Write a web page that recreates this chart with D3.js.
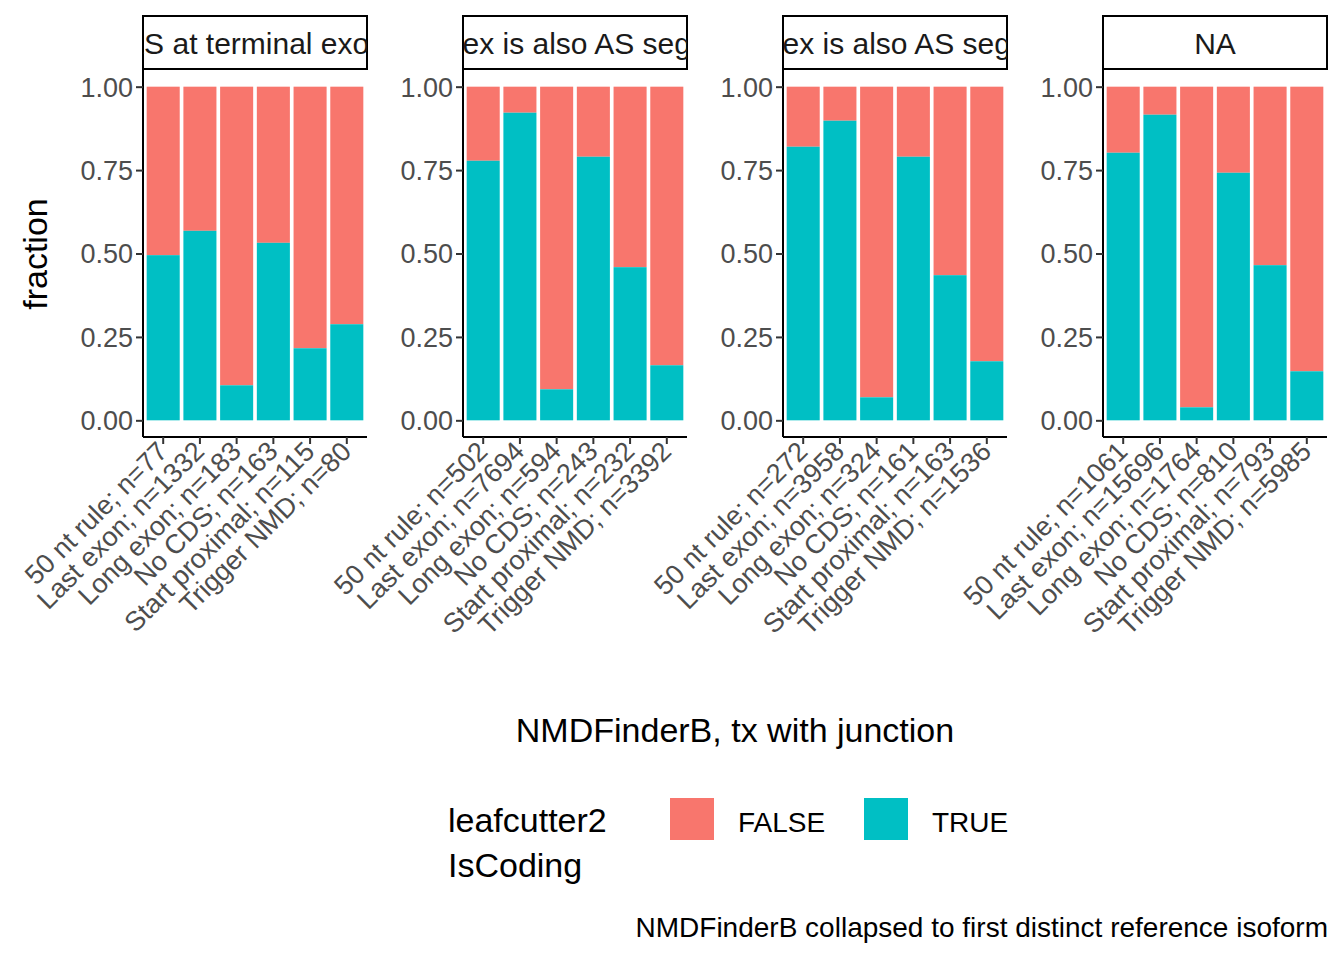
<!DOCTYPE html>
<html><head><meta charset="utf-8">
<script src="https://cdn.jsdelivr.net/npm/d3@7"></script>
<style>body{margin:0;background:#fff}text{font-family:"Liberation Sans",Arial,sans-serif}</style>
</head><body><svg width="1344" height="960"></svg>
<script>
const svg = d3.select("svg");
const facets = ["AS at terminal exon", "Next ex is also AS segment", "Prev ex is also AS segment", "NA"];
const categories = ["50 nt rule", "Last exon", "Long exon", "No CDS", "Start proximal", "Trigger NMD"];
// n per category per facet
const counts = [
  [77, 1332, 183, 163, 115, 80],
  [502, 7694, 594, 243, 232, 3392],
  [272, 3958, 324, 161, 163, 1536],
  [1061, 15696, 1764, 810, 793, 5985]
];
// fraction TRUE per category per facet
const trueFrac = [
  [0.495, 0.568, 0.105, 0.532, 0.216, 0.288],
  [0.778, 0.922, 0.093, 0.790, 0.459, 0.165],
  [0.820, 0.898, 0.069, 0.790, 0.435, 0.177],
  [0.802, 0.916, 0.039, 0.742, 0.465, 0.147]
];
const yTicks = [0, 0.25, 0.5, 0.75, 1];
const colFalse = "#F8766D", colTrue = "#00BFC4";

const panelX = [143, 463, 783, 1103], panelW = 224;
const plotTop = 70, plotBottom = 437;
const y = d3.scaleLinear().domain([-0.05, 1.05]).range([plotBottom, plotTop]);

const defs = svg.append("defs");
facets.forEach((f, i) => {
  const g = svg.append("g").attr("transform", `translate(${panelX[i]},0)`);
  const labels = categories.map((c, j) => `${c}; n=${counts[i][j]}`);
  const x = d3.scaleBand().domain(labels).range([0, panelW]).padding(0.1);
  labels.forEach((l, j) => {
    g.append("rect").attr("x", x(l)).attr("width", x.bandwidth())
      .attr("y", y(1)).attr("height", y(trueFrac[i][j]) - y(1)).attr("fill", colFalse);
    g.append("rect").attr("x", x(l)).attr("width", x.bandwidth())
      .attr("y", y(trueFrac[i][j])).attr("height", y(0) - y(trueFrac[i][j])).attr("fill", colTrue);
  });
  // strip
  defs.append("clipPath").attr("id", "clip" + i).append("rect")
    .attr("x", 0).attr("y", 16).attr("width", panelW).attr("height", 54);
  g.append("rect").attr("x", 0).attr("y", 16).attr("width", panelW).attr("height", 53)
    .attr("fill", "#fff").attr("stroke", "#000").attr("stroke-width", 2);
  g.append("text").attr("clip-path", `url(#clip${i})`).attr("x", panelW / 2).attr("y", 54)
    .attr("text-anchor", "middle").attr("font-size", 30).attr("fill", "#1a1a1a").text(f);
  // axes
  const ya = g.append("g").call(d3.axisLeft(y).tickValues(yTicks).tickFormat(d3.format(".2f")).tickSize(7).tickSizeOuter(0));
  const xa = g.append("g").attr("transform", `translate(0,${plotBottom})`).call(d3.axisBottom(x).tickSize(7).tickSizeOuter(0));
  [ya, xa].forEach(a => {
    a.select(".domain").attr("stroke", "#000").attr("stroke-width", 2);
    a.selectAll(".tick line").attr("stroke", "#333").attr("stroke-width", 2);
    a.selectAll("text").attr("font-size", 27).attr("fill", "#4d4d4d").attr("font-family", "Liberation Sans, Arial, sans-serif");
  });
  ya.selectAll("text").attr("x", -10).attr("dy", "0.35em");
  xa.selectAll("text").attr("text-anchor", "end").attr("dy", 0)
    .attr("transform", "translate(6,16) rotate(-45)").attr("y", 0).attr("x", 0);
  ya.select(".domain").attr("d", `M0,${plotTop}V${plotBottom}`);
  xa.select(".domain").attr("d", `M0,0H${panelW}`);
});

svg.append("text").attr("transform", "translate(47,254) rotate(-90)").attr("text-anchor", "middle")
  .attr("font-size", 34).text("fraction");
svg.append("text").attr("x", 735).attr("y", 742).attr("text-anchor", "middle")
  .attr("font-size", 34).text("NMDFinderB, tx with junction");

// legend
svg.append("text").attr("x", 448).attr("y", 832).attr("font-size", 34).text("leafcutter2");
svg.append("text").attr("x", 448).attr("y", 877).attr("font-size", 34).text("IsCoding");
[["FALSE", colFalse, 670], ["TRUE", colTrue, 864]].forEach(([t, c, x0]) => {
  svg.append("rect").attr("x", x0).attr("y", 798).attr("width", 44).attr("height", 42).attr("fill", c);
  svg.append("text").attr("x", x0 + 68).attr("y", 832).attr("font-size", 28).text(t);
});
svg.append("text").attr("x", 1328).attr("y", 937).attr("text-anchor", "end").attr("font-size", 28)
  .text("NMDFinderB collapsed to first distinct reference isoform");
</script></body></html>
